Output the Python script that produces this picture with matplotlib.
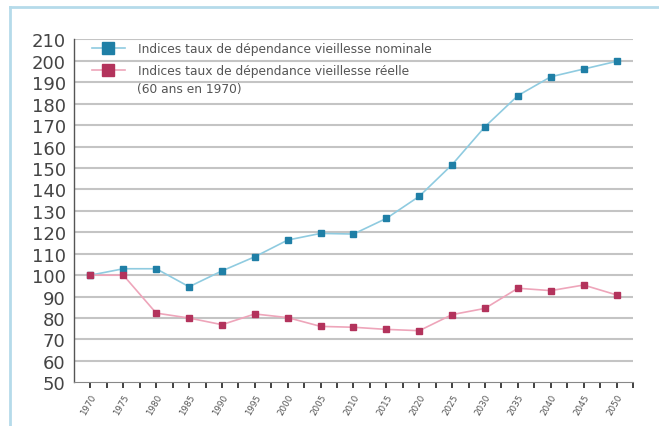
import matplotlib
matplotlib.use("Agg")
import matplotlib.pyplot as plt
from matplotlib.lines import Line2D

# ============================================
# DONNÉES
# ============================================

annees = [1970, 1975, 1980, 1985, 1990, 1995, 2000, 2005, 2010,
          2015, 2020, 2025, 2030, 2035, 2040, 2045, 2050]

# indices taux de dépendance vieillesse nominale
nominale = [100, 103, 103, 94.6, 102, 108.6, 116.4, 119.5, 119.2,
            126.5, 136.8, 151.6, 169.3, 183.8, 192.6, 196.2, 199.8]

# indices taux de dépendance vieillesse réelle (60 ans en 1970)
reelle = [100, 100, 82.3, 80, 76.9, 81.9, 80.2, 76.1, 75.7,
          74.7, 74.1, 81.6, 84.5, 93.9, 92.8, 95.4, 90.8]

y_ticks = list(range(50, 211, 10))

label_nom = "Indices taux de dépendance vieillesse nominale"
label_reel = "Indices taux de dépendance vieillesse réelle"
label_reel_suite = "(60 ans en 1970)"

# ============================================
# GRAPHIQUE
# ============================================

fig = plt.figure(figsize=(6.59, 4.27), dpi=100)
ax = fig.add_axes([0.1123, 0.1023, 0.8482, 0.8029])

# cadre bleu clair autour du graphique
fig.add_artist(Line2D([10 / 659, 10 / 659], [1 - 8 / 427, 0], transform=fig.transFigure,
                      color="#b5dbea", lw=2))
fig.add_artist(Line2D([10 / 659, 1], [1 - 8 / 427, 1 - 8 / 427], transform=fig.transFigure,
                      color="#b5dbea", lw=2))

for v in y_ticks[1:]:
    ax.axhline(v, color="#c4c4c4", lw=1.5, zorder=1)

ax.plot(annees, nominale, color="#8fcbe0", lw=1.2, marker="s", markersize=5,
        markerfacecolor="#1f7fa6", markeredgecolor="#1f7fa6", zorder=3, label=label_nom)
ax.plot(annees, reelle, color="#eea5ba", lw=1.2, marker="s", markersize=5,
        markerfacecolor="#b3335c", markeredgecolor="#b3335c", zorder=4, label=label_reel)

ax.set_xlim(1967.5, 2052.5)
ax.set_ylim(50, 210)
ax.set_yticks(y_ticks)
ax.set_yticklabels([str(v) for v in y_ticks], fontsize=13, color="#444444")
ax.set_xticks(annees)
ax.set_xticks([a + 2.5 for a in annees], minor=True)
ax.set_xticklabels([str(a) for a in annees], fontsize=6.3, color="#555555",
                   rotation=60, ha="right", rotation_mode="anchor")

ax.tick_params(axis="y", length=0, pad=6)
ax.tick_params(axis="x", which="both", direction="out", length=4, width=1.3,
               color="#333333", pad=3)

for s in ["top", "right"]:
    ax.spines[s].set_visible(False)
ax.spines["left"].set_color("#555555")
ax.spines["left"].set_linewidth(1)
ax.spines["bottom"].set_color("#888888")
ax.spines["bottom"].set_linewidth(0.8)

leg = ax.legend(loc="upper left", bbox_to_anchor=(0.012, 1.025), frameon=False,
                fontsize=8.8, handlelength=2.7, handletextpad=1.1,
                labelspacing=0.75, markerscale=1.6)
for t in leg.get_texts():
    t.set_color("#555555")

# deuxième ligne de la légende réelle
fig.text(137 / 659, 1 - 89 / 427, label_reel_suite, fontsize=8.8, color="#555555",
         va="center", ha="left")

plt.savefig("out.png", dpi=100)
